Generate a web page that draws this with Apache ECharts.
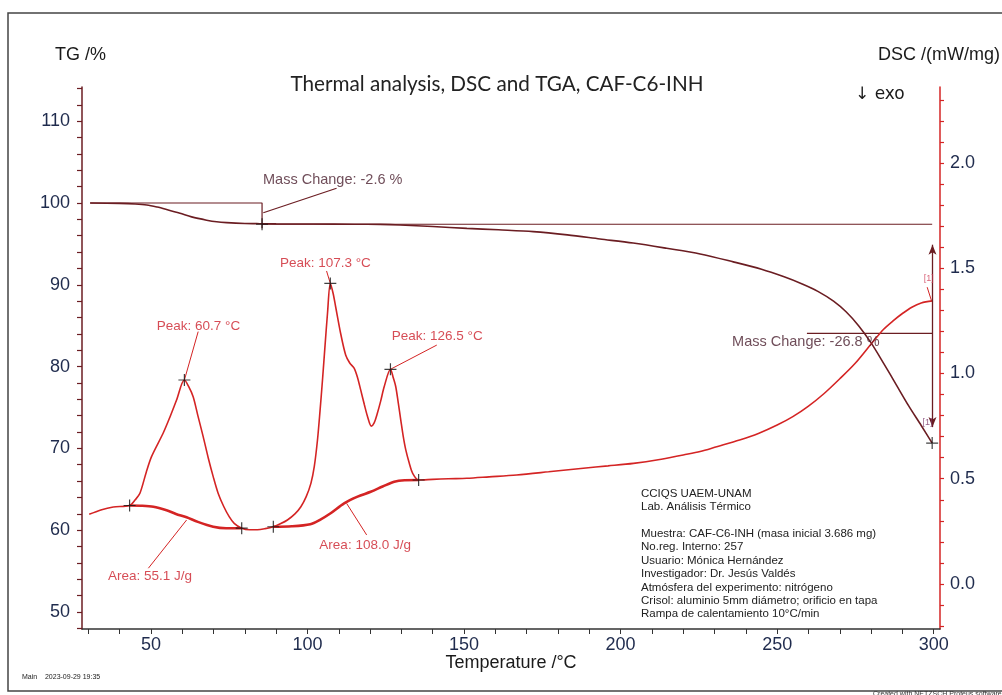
<!DOCTYPE html>
<html>
<head>
<meta charset="utf-8">
<script src="https://cdn.jsdelivr.net/npm/echarts@6/dist/echarts.min.js"></script>
<style>
html,body{margin:0;padding:0;background:#fff;}
#chart{width:1002px;height:695px;}
</style>
</head>
<body>
<div id="chart"></div>
<script>
// ---------- DATA ----------
// TG curve: [temperature °C, mass %]
const tgData = [
  [30.6,100.0],[40,99.95],[45,99.88],[48.7,99.76],[52,99.5],[55,99.2],[59.3,98.74],[63,98.3],
  [67.8,97.9],[71,97.7],[74.2,97.6],[80,97.5],[84.8,97.47],[90,97.45],[101.9,97.43],[115,97.4],
  [123.2,97.38],[129.6,97.31],[140,97.12],[150.9,96.9],[161,96.72],[172.1,96.5],[183,96.1],
  [193.4,95.6],[204,95.1],[214.7,94.46],[225.4,93.77],[236,92.8],[245,91.9],[252,91.0],
  [258,90.1],[263,89.2],[268,88.0],[272,86.7],[276,85.0],[280,82.9],[284,80.4],[288,77.8],
  [292,75.2],[296,72.8],[299.5,70.65]
];
// DSC curve: [temperature °C, mW/mg]
const dscData = [
  [30.3,0.331],[34,0.352],[38,0.366],[43.2,0.373],[45,0.40],[46.5,0.431],[48.5,0.53],[50.2,0.605],
  [53.9,0.716],[56,0.79],[58.2,0.874],[60.7,0.969],[62,0.94],[63.5,0.89],[65,0.80],[66.7,0.70],
  [68.3,0.60],[69.9,0.51],[71.5,0.43],[73.3,0.367],[75,0.32],[76.6,0.288],[79.0,0.265],[81.5,0.258],
  [84.0,0.258],[86.5,0.263],[89.1,0.272],[91.5,0.287],[93.6,0.304],[96,0.333],[97.9,0.367],[99.6,0.415],
  [101.1,0.478],[102.2,0.56],[103.2,0.684],[104.0,0.82],[104.8,0.969],[105.6,1.13],[106.4,1.286],
  [107.3,1.428],[108.2,1.38],[109.0,1.317],[110.6,1.19],[112.2,1.088],[113.5,1.05],[114.9,1.025],
  [116,0.98],[117.0,0.922],[118.2,0.85],[119.2,0.795],[120.4,0.75],[121.3,0.765],[122.3,0.81],
  [123.4,0.87],[124.5,0.937],[126.5,1.02],[127.4,0.98],[128.2,0.937],[129.0,0.86],[129.8,0.779],
  [130.6,0.70],[131.4,0.637],[132.5,0.575],[133.6,0.526],[135.5,0.494],[140,0.497],[145,0.500],
  [150.9,0.502],[158,0.509],[166.8,0.518],[177,0.533],[188.1,0.55],[196,0.561],[204.1,0.573],
  [212,0.59],[220,0.613],[225.4,0.629],[230.7,0.652],[238,0.684],[244,0.715],[250,0.755],
  [255,0.795],[260,0.845],[265,0.905],[270,0.975],[275,1.05],[280,1.14],[284,1.21],[287,1.25],
  [290,1.285],[293,1.315],[296,1.335],[299.6,1.345]
];
// DSC integration baselines
const baseline1 = [[43.2,0.373],[47,0.372],[50.8,0.367],[55,0.35],[58,0.333],[61.4,0.317],[65,0.295],[69.9,0.272],[74,0.265],[79.0,0.265]];
const baseline2 = [[89.1,0.272],[95,0.274],[100.9,0.284],[104,0.305],[107.4,0.336],[111.7,0.383],[116,0.415],[120.2,0.438],[124,0.463],[127.7,0.486],[131,0.493],[135.5,0.494]];
// evaluation markers (+)
const dscMarks = [[43.2,0.373],[60.7,0.969],[79.0,0.265],[89.1,0.272],[107.3,1.428],[126.5,1.02],[135.5,0.494]];
const tgMarks = [[85.5,97.4],[299.5,70.65]];
// tick values
const xTicks = [30,40,50,60,70,80,90,100,110,120,130,140,150,160,170,180,190,200,210,220,230,240,250,260,270,280,290,300];
const xLabels = [50,100,150,200,250,300];
const tgTicks = [48,50,52,54,56,58,60,62,64,66,68,70,72,74,76,78,80,82,84,86,88,90,92,94,96,98,100,102,104,106,108,110,112,114];
const tgLabels = [50,60,70,80,90,100,110];
const dscTicks = [-0.2,-0.1,0,0.1,0.2,0.3,0.4,0.5,0.6,0.7,0.8,0.9,1.0,1.1,1.2,1.3,1.4,1.5,1.6,1.7,1.8,1.9,2.0,2.1,2.2,2.3];
const dscLabels = [0,0.5,1.0,1.5,2.0];
// annotation texts and anchors (data units)
const tgTexts = [
  ['Mass Change: -2.6 %', 85.8, 102.8],
  ['Mass Change: -26.8 %', 235.6, 83.0]
];
const dscTexts = [
  ['Peak: 60.7 °C', 51.85, 1.222],
  ['Peak: 107.3 °C', 91.2, 1.525],
  ['Peak: 126.5 °C', 126.9, 1.175],
  ['Area: 55.1 J/g', 36.3, 0.035],
  ['Area: 108.0 J/g', 103.8, 0.185]
];
// annotation lines (data units)
const tgLines = [
  [[30.6,100],[85.5,100],[85.5,96.9]],
  [[85.5,97.4],[299.5,97.4]],
  [[85.9,98.81],[109.3,101.8]],
  [[259.5,84.07],[299.5,84.07]]
];
const tgArrow = [[299.6,94.9],[299.6,72.6]];
const dscLines = [
  [[60.7,0.969],[65.1,1.199]],
  [[107.3,1.428],[106.1,1.487]],
  [[126.5,1.02],[141.3,1.135]],
  [[49.2,0.075],[61.4,0.304]],
  [[118.9,0.233],[112.5,0.383]],
  [[297.9,1.41],[299.3,1.345]]
];
const infoLines = [
  'CCIQS UAEM-UNAM','Lab. Análisis Térmico','',
  'Muestra: CAF-C6-INH (masa inicial 3.686 mg)','No.reg. Interno: 257','Usuario: Mónica Hernández',
  'Investigador: Dr. Jesús Valdés','Atmósfera del experimento: nitrógeno',
  'Crisol: aluminio 5mm diámetro; orificio en tapa','Rampa de calentamiento 10°C/min'
];

// ---------- STYLE ----------
const TG_COLOR = '#6b1d22';
const DSC_COLOR = '#d42424';
const LABEL_COLOR = '#1f2b4d';
const FONT = '"Liberation Sans", Arial, sans-serif';
const plusPath = 'path://M5.4,0h1.2v12h-1.2zM0,5.4h12v1.2h-12z';

const chart = echarts.init(document.getElementById('chart'), null, {renderer:'canvas'});

const series = [];
series.push({type:'line', xAxisIndex:0, yAxisIndex:0, data:tgData, smooth:0.3, symbol:'none',
  lineStyle:{color:TG_COLOR, width:1.6}, silent:true, z:3,
  markLine:{silent:true, symbol:['arrow','arrow'], symbolSize:[6,10], label:{show:false},
    lineStyle:{color:TG_COLOR, width:1.3, type:'solid'},
    data:[[{coord:tgArrow[0]},{coord:tgArrow[1]}]]}
});
series.push({type:'line', xAxisIndex:0, yAxisIndex:1, data:dscData, smooth:0.3, symbol:'none',
  lineStyle:{color:DSC_COLOR, width:1.6}, silent:true, z:3});
[baseline1, baseline2].forEach(b => series.push({type:'line', xAxisIndex:0, yAxisIndex:1, data:b, smooth:0.3,
  symbol:'none', lineStyle:{color:DSC_COLOR, width:2.6}, silent:true, z:3}));
tgLines.forEach(l => series.push({type:'line', yAxisIndex:0, data:l, symbol:'none',
  lineStyle:{color:TG_COLOR, width:1.2}, silent:true, z:2}));
dscLines.forEach(l => series.push({type:'line', yAxisIndex:1, data:l, symbol:'none',
  lineStyle:{color:DSC_COLOR, width:1}, silent:true, z:2}));
series.push({type:'scatter', yAxisIndex:1, data:dscMarks, symbol:plusPath, symbolSize:12,
  itemStyle:{color:'#111'}, silent:true, z:5});
series.push({type:'scatter', yAxisIndex:0, data:tgMarks, symbol:plusPath, symbolSize:12,
  itemStyle:{color:'#111'}, silent:true, z:5});
series.push({type:'scatter', yAxisIndex:0, symbolSize:0, silent:true, z:6,
  data: tgTexts.map(t => ({value:[t[1],t[2]], label:{show:true, formatter:t[0], position:'right', distance:0,
    color:'#4b2030', fontSize:14.5, fontFamily:FONT}}))});
series.push({type:'scatter', yAxisIndex:1, symbolSize:0, silent:true, z:6,
  data: dscTexts.map(t => ({value:[t[1],t[2]], label:{show:true, formatter:t[0], position:'right', distance:0,
    color:'#cc1f2a', fontSize:13.5, fontFamily:FONT}})).concat([
    {value:[296.8,1.449], label:{show:true, formatter:'[1]', position:'right', distance:0, color:'#d0405a', fontSize:9, fontFamily:FONT}}
  ])});
series.push({type:'scatter', yAxisIndex:0, symbolSize:0, silent:true, z:6,
  data:[{value:[296.4,73.2], label:{show:true, formatter:'[1]', position:'right', distance:0, color:'#7a3a6a', fontSize:9, fontFamily:FONT}}]});

const option = {
  animation:false,
  backgroundColor:'#fff',
  grid:{left:82, right:62, top:87, bottom:66, containLabel:false},
  xAxis:{type:'value', min:28, max:302,
    axisLine:{show:true, onZero:false, lineStyle:{color:'#333', width:1.5}},
    axisTick:{show:true, customValues:xTicks, length:5, lineStyle:{color:'#333'}},
    axisLabel:{customValues:xLabels, fontSize:18, color:LABEL_COLOR, fontFamily:FONT, margin:7},
    splitLine:{show:false}},
  yAxis:[
    {type:'value', position:'left', min:47.92, max:114.18,
      axisLine:{show:true, lineStyle:{color:TG_COLOR, width:1.5}},
      axisTick:{show:true, customValues:tgTicks, length:5, lineStyle:{color:TG_COLOR, width:1.2}},
      axisLabel:{customValues:tgLabels, fontSize:18, color:LABEL_COLOR, fontFamily:FONT, margin:12},
      splitLine:{show:false}},
    {type:'value', position:'right', min:-0.2138, max:2.361,
      axisLine:{show:true, lineStyle:{color:DSC_COLOR, width:1.5}},
      axisTick:{show:true, customValues:dscTicks, length:4, lineStyle:{color:DSC_COLOR, width:1.2}},
      axisLabel:{customValues:dscLabels, fontSize:18, color:LABEL_COLOR, fontFamily:FONT, margin:10,
        formatter:v => v.toFixed(1)},
      splitLine:{show:false}}
  ],
  graphic:[
    {type:'rect', shape:{x:8, y:13, width:1010, height:678}, style:{fill:'none', stroke:'#444', lineWidth:1.5}, silent:true, z:-1},
    {type:'text', x:497, y:84, style:{text:'Thermal analysis, DSC and TGA, CAF-C6-INH', fontSize:20.7, fontFamily:'Lato, "Open Sans", sans-serif',
      fill:'#222', align:'center', verticalAlign:'middle'}},
    {type:'text', x:55, y:55, style:{text:'TG /%', fontSize:18, fontFamily:FONT, fill:'#1a1a1a', verticalAlign:'middle'}},
    {type:'text', x:878, y:55, style:{text:'DSC /(mW/mg)', fontSize:18, fontFamily:FONT, fill:'#1a1a1a', verticalAlign:'middle'}},
    {type:'text', x:855, y:95, style:{text:'↓ exo', fontSize:17, fontFamily:'"DejaVu Sans", sans-serif', fill:'#1a1a1a', verticalAlign:'middle'}},
    {type:'text', x:511, y:663, style:{text:'Temperature /°C', fontSize:18, fontFamily:FONT, fill:'#1a1a1a', align:'center', verticalAlign:'middle'}},
    {type:'text', x:22, y:677, style:{text:'Main    2023-09-29 19:35', fontSize:7, fontFamily:FONT, fill:'#222', verticalAlign:'middle'}},
    {type:'text', x:873, y:694, style:{text:'Created with NETZSCH Proteus software', fontSize:7, fontFamily:FONT, fill:'#333', verticalAlign:'middle'}},
    {type:'text', x:641, y:487, style:{text:infoLines.join('\n'), fontSize:11.5, lineHeight:13.4, fontFamily:FONT, fill:'#222', verticalAlign:'top'}}
  ],
  series:series
};
chart.setOption(option);
</script>
</body>
</html>
